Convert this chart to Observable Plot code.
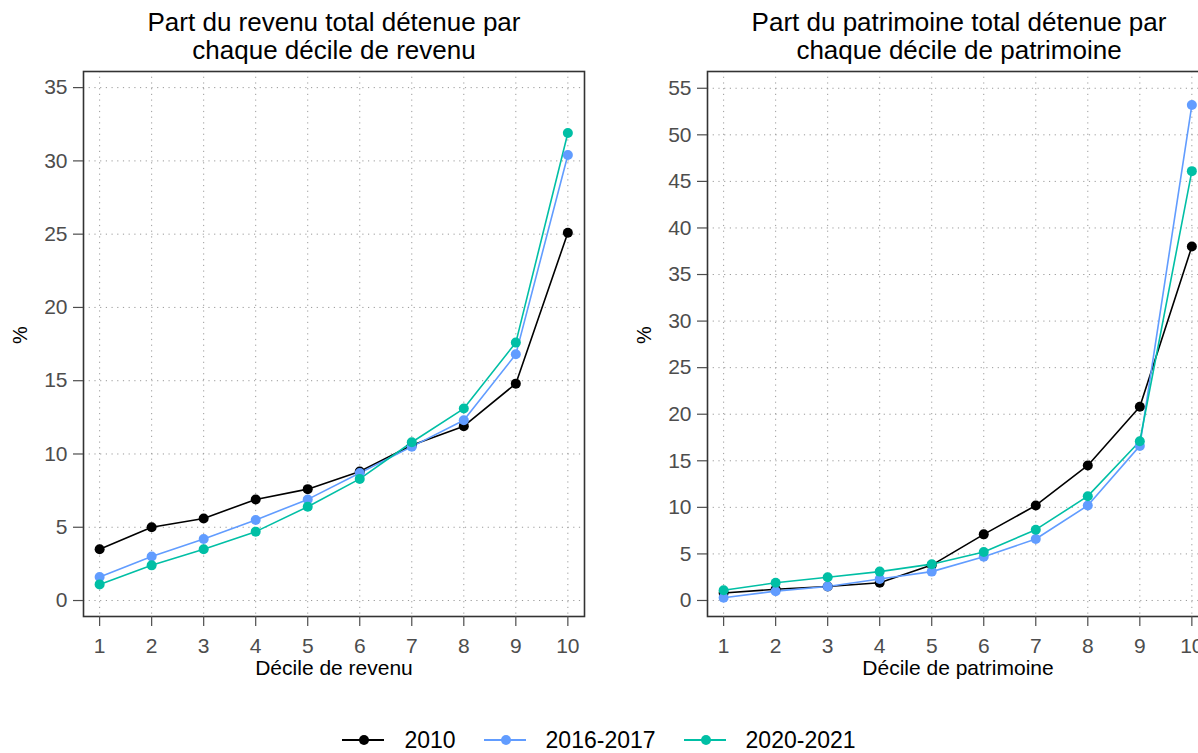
<!DOCTYPE html>
<html>
<head>
<meta charset="utf-8">
<script src="https://cdn.jsdelivr.net/npm/d3@7"></script>
<script src="https://cdn.jsdelivr.net/npm/@observablehq/plot@0.6"></script>
<style>
  html, body { margin: 0; padding: 0; background: #fff; overflow: hidden; }
  body { width: 1198px; height: 753px; position: relative; font-family: "Liberation Sans", Arial, sans-serif; }
  .panel { position: absolute; top: 0; width: 600px; height: 700px; }
  .panel svg { max-width: none !important; width: 600px; height: 700px; }
  .title { position: absolute; width: 600px; text-align: center; font-size: 26px; line-height: 28px; color: #000; top: 8px; white-space: nowrap; }
  #legend { position: absolute; left: 0; width: 1198px; top: 727px; display: flex; justify-content: center; align-items: center; font-size: 23px; line-height: 26px; color: #000; }
  #legend .sw { width: 42px; height: 14px; margin-right: 20px; }
  #legend .lab { margin-right: 28px; }
  #legend .lab:last-child { margin-right: 0; }
</style>
</head>
<body>
<div class="title" style="left:34px">Part du revenu total détenue par<br>chaque décile de revenu</div>
<div class="title" style="left:659px">Part du patrimoine total détenue par<br>chaque décile de patrimoine</div>
<div id="left" class="panel" style="left:0px"></div>
<div id="right" class="panel" style="left:624px"></div>
<div id="legend"></div>
<script>
// ---- data ----
const deciles = [1, 2, 3, 4, 5, 6, 7, 8, 9, 10];
const series = ["2010", "2016-2017", "2020-2021"];
const colors = ["#000000", "#619CFF", "#00BFA5"];

// Part du revenu total (%)
const revenu2010 = [3.5, 5.0, 5.6, 6.9, 7.6, 8.8, 10.6, 11.9, 14.8, 25.1];
const revenu2016 = [1.6, 3.0, 4.2, 5.5, 6.9, 8.7, 10.5, 12.3, 16.8, 30.4];
const revenu2020 = [1.1, 2.4, 3.5, 4.7, 6.4, 8.3, 10.8, 13.1, 17.6, 31.9];

// Part du patrimoine total (%)
const patrimoine2010 = [0.8, 1.2, 1.5, 1.9, 3.8, 7.1, 10.2, 14.5, 20.8, 38.0];
const patrimoine2016 = [0.3, 1.0, 1.5, 2.3, 3.1, 4.7, 6.6, 10.2, 16.6, 53.2];
const patrimoine2020 = [1.1, 1.9, 2.5, 3.1, 3.9, 5.2, 7.6, 11.2, 17.1, 46.1];

const revenuTicks = [0, 5, 10, 15, 20, 25, 30, 35];
const patrimoineTicks = [0, 5, 10, 15, 20, 25, 30, 35, 40, 45, 50, 55];

// ---- tables ----
function toRows(arrs) {
  const rows = [];
  arrs.forEach((vals, i) => vals.forEach((v, j) => rows.push({decile: deciles[j], value: v, serie: series[i]})));
  return rows;
}
const revenuRows = toRows([revenu2010, revenu2016, revenu2020]);
const patrimoineRows = toRows([patrimoine2010, patrimoine2016, patrimoine2020]);

function panel(rows, yDomain, yTicks, xLabel) {
  const gridStyle = {stroke: "#9a9a9a", strokeOpacity: 1, strokeWidth: 1, strokeDasharray: "1.2,4.5"};
  return Plot.plot({
    width: 600, height: 700,
    marginLeft: 83, marginRight: 16, marginTop: 71, marginBottom: 84,
    style: {fontFamily: "Liberation Sans, Arial, sans-serif", background: "transparent"},
    x: {type: "linear", domain: [0.69, 10.32]},
    y: {type: "linear", domain: yDomain},
    color: {domain: series, range: colors},
    marks: [
      Plot.gridX(deciles, gridStyle),
      Plot.gridY(yTicks, gridStyle),
      Plot.frame({stroke: "#333333", strokeWidth: 1.6}),
      Plot.axisX(deciles, {tickSize: 10, tickPadding: 12, fontSize: 21, stroke: "#4d4d4d", fill: "#4d4d4d", strokeWidth: 1.2, label: null}),
      Plot.axisY(yTicks, {tickSize: 10, tickPadding: 6, fontSize: 21, stroke: "#4d4d4d", fill: "#4d4d4d", strokeWidth: 1.2, label: null}),
      Plot.line(rows, {x: "decile", y: "value", stroke: "serie", z: "serie", strokeWidth: 1.6}),
      Plot.dot(rows, {x: "decile", y: "value", fill: "serie", r: 5}),
      Plot.text([xLabel], {text: d => d, frameAnchor: "bottom", dy: 58, fontSize: 21, fill: "#000"}),
      Plot.text(["%"], {text: d => d, frameAnchor: "left", dx: -63, rotate: -90, fontSize: 20, fill: "#000"})
    ]
  });
}

document.getElementById("left").appendChild(panel(revenuRows, [-1.09, 36.1], revenuTicks, "Décile de revenu"));
document.getElementById("right").appendChild(panel(patrimoineRows, [-1.72, 56.8], patrimoineTicks, "Décile de patrimoine"));

// ---- legend ----
const legend = document.getElementById("legend");
series.forEach((s, i) => {
  const sw = document.createElementNS("http://www.w3.org/2000/svg", "svg");
  sw.setAttribute("class", "sw");
  sw.setAttribute("viewBox", "0 0 42 14");
  sw.innerHTML = `<line x1="0" x2="42" y1="7" y2="7" stroke="${colors[i]}" stroke-width="1.8"/><circle cx="22" cy="7" r="5" fill="${colors[i]}"/>`;
  legend.appendChild(sw);
  const lab = document.createElement("span");
  lab.className = "lab";
  lab.textContent = s;
  legend.appendChild(lab);
});
</script>
</body>
</html>
